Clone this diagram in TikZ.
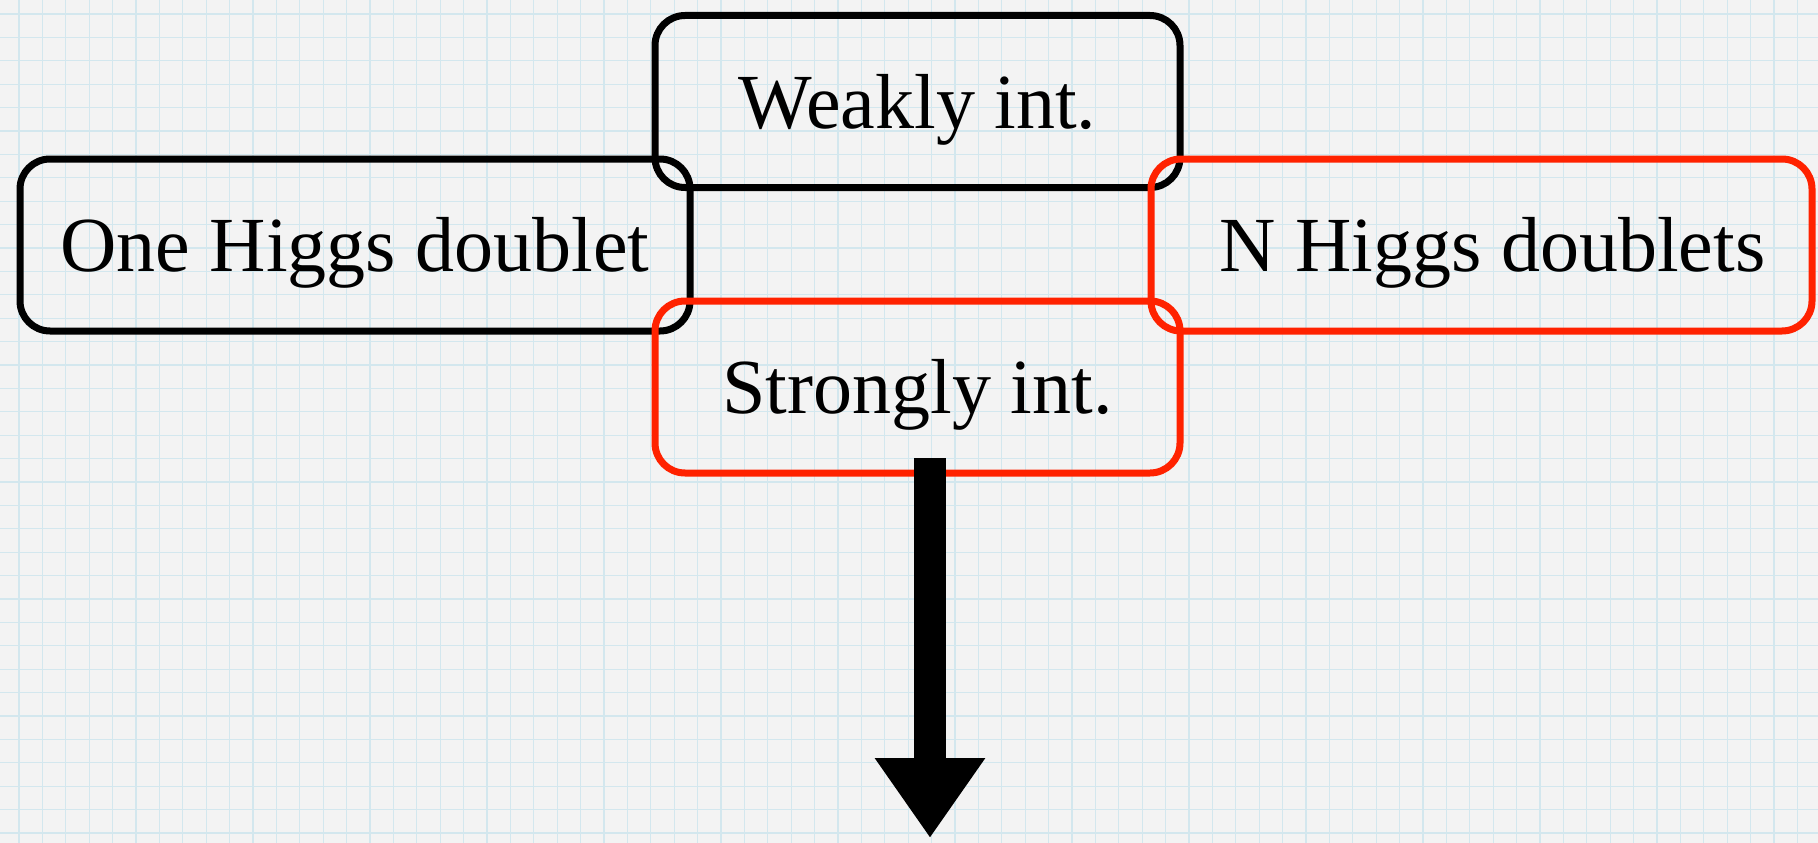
\documentclass[tikz,border=0pt]{standalone}
\usepackage{fontspec}
\setmainfont{Liberation Serif}
\usetikzlibrary{arrows.meta}
\definecolor{bg}{HTML}{F3F3F3}
\definecolor{gridc}{HTML}{D3E7EE}
\definecolor{boxred}{HTML}{FF2200}
\begin{document}
\begin{tikzpicture}[x=1pt,y=-1pt,
  box/.style={draw=#1, line width=7pt, rounded corners=30pt,
    minimum width=525pt, minimum height=172pt, inner sep=0pt,
    font=\fontsize{78}{90}\selectfont, text height=53pt, text depth=0pt},
  box/.default=black]
\fill[bg] (0,0) rectangle (1818,843);
\useasboundingbox (0,0) rectangle (1818,843);
\foreach \i in {0,...,77} \draw[gridc, line width=1.2pt] (19+23.4*\i,0) -- (19+23.4*\i,843);
\foreach \j in {0,...,35} \draw[gridc, line width=1.2pt] (0,14+23.4*\j) -- (1818,14+23.4*\j);

\node[box] (weak) at (917.5,101.5) {Weakly int.};
\node[box, minimum width=670pt] (one) at (355,245) {One Higgs doublet};
\node[box=boxred] (strong) at (917.5,387) {Strongly int.};
\node[box=boxred, minimum width=661pt] (nh) at (1481.5,245) {\hspace*{22pt}N Higgs doublets};

\coordinate (atop) at (930,458);
\coordinate (atip) at (930,838);
\draw[line width=32pt, black, -{Triangle[length=80pt 0 0, width=105pt 0 0]}]
  (atop) -- (atip);
\end{tikzpicture}
\end{document}
